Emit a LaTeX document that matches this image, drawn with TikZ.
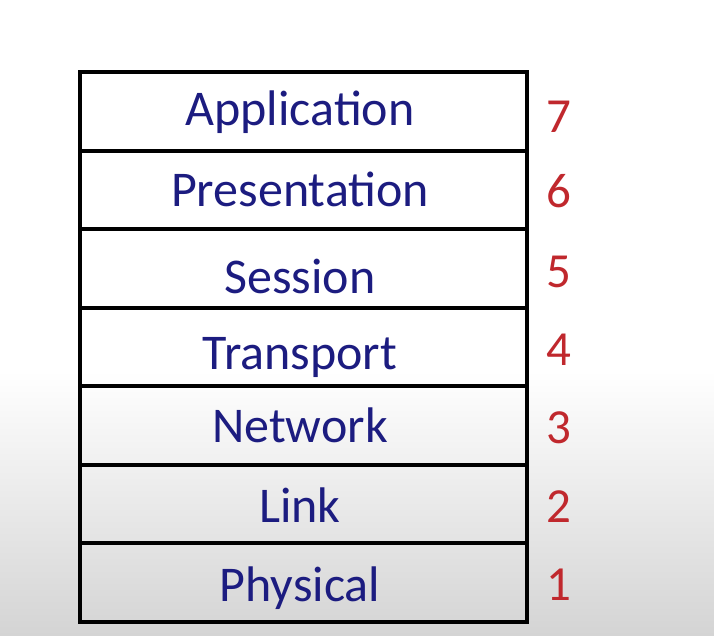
\documentclass[tikz,border=0pt]{standalone}
\usepackage{fontspec}
\setmainfont{Carlito}
\usepackage{tikz}
\usetikzlibrary{positioning}
\definecolor{osiblue}{HTML}{1C1C80}
\definecolor{osired}{HTML}{C0282D}
\definecolor{floor}{HTML}{D4D4D4}
\tikzset{
  layer/.style={draw=black,line width=4pt,minimum width=447pt,minimum height=78.57pt,inner sep=0pt,outer sep=0pt},
  lyrname/.style={anchor=base,text=osiblue,font=\fontsize{50}{58}\selectfont,inner sep=0pt},
  lyrnum/.style={anchor=base,text=osired,font=\fontsize{49}{58}\selectfont,inner sep=0pt},
}

\begin{document}
\begin{tikzpicture}[x=1pt,y=-1pt]
    % backdrop: white, greying towards the bottom
    \fill[white] (0,0) rectangle (714,636);
    \shade[top color=white,bottom color=floor] (0,370) rectangle (714,636);
    \useasboundingbox (0,0) rectangle (714,636);
    \node[layer,anchor=north west] (l7) at (80,72) {};
    \foreach \i/\j in {7/6,6/5,5/4,4/3,3/2,2/1} \node[layer,below=0pt of l\i] (l\j) {};
    \foreach \lyr/\yb/\k/\kb in {Application/126/7/133,Presentation/207/6/208,Session/293/5/287,Transport/369/4/365,Network/442/3/443,Link/522/2/522,Physical/601/1/600} {
      \node[lyrname] (t\k) at (300,\yb) {\lyr};
      \node[lyrnum] (n\k) at (559,\kb) {\k};
    }
  \end{tikzpicture}
\end{document}
